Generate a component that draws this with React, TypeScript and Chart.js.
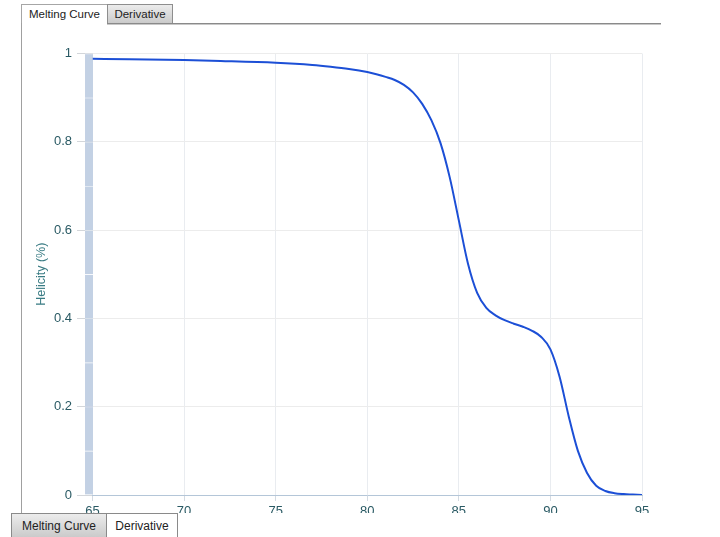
import React, { useEffect, useRef } from "react";
import { Chart, registerables } from "chart.js";

Chart.register(...registerables);

// Melting curve: temperature (°C) vs helicity fraction
const temperatures = [
  65, 67, 70, 72, 75, 77, 78, 79, 80, 80.5, 81, 81.5, 82, 82.5, 83, 83.5, 84,
  84.5, 85, 85.5, 86, 86.5, 87, 87.5, 88, 88.5, 89, 89.5, 90, 90.5, 91, 91.5,
  92, 92.5, 93, 93.5, 94, 94.5, 95,
];
const helicity = [
  0.988, 0.987, 0.985, 0.983, 0.979, 0.974, 0.97, 0.965, 0.958, 0.953, 0.947,
  0.94, 0.929, 0.912, 0.886, 0.849, 0.797, 0.72, 0.622, 0.524, 0.458, 0.424,
  0.407, 0.396, 0.388, 0.381, 0.372, 0.358, 0.33, 0.268, 0.178, 0.1, 0.05,
  0.021, 0.009, 0.004, 0.002, 0.001, 0.0,
];
const xTicks = [65, 70, 75, 80, 85, 90, 95];
const yTicks = [0, 0.2, 0.4, 0.6, 0.8, 1];
// Range selector bar beside the y axis, split into segments
const rangeBarX = 64.81;
const rangeBarEdges = [0, 0.1, 0.2, 0.3, 0.4, 0.5, 0.6, 0.7, 0.8, 0.9, 1.0];

const FONT = '"Liberation Sans", Arial, Helvetica, sans-serif';

function MeltingChart() {
  const ref = useRef<HTMLCanvasElement | null>(null);
  useEffect(() => {
    if (!ref.current) return;
    const segments = rangeBarEdges.slice(0, -1).map((lo, i) => ({
      x: rangeBarX,
      y: [lo, rangeBarEdges[i + 1]],
    }));
    const chart = new Chart(ref.current, {
      type: "line",
      data: {
        datasets: [
          {
            type: "line",
            data: temperatures.map((t, i) => ({ x: t, y: helicity[i] })),
            borderColor: "#1c4fd6",
            borderWidth: 2,
            pointRadius: 0,
            cubicInterpolationMode: "monotone",
            fill: false,
            order: 0,
          } as any,
          {
            type: "bar",
            data: segments as any,
            backgroundColor: "#c3d1e4",
            borderColor: (ctx: any) =>
              ctx.dataIndex % 2 === 0 ? "#ffffff" : "#e4e8ee",
            borderWidth: { top: 1, left: 0, right: 0, bottom: 0 },
            borderSkipped: false,
            barThickness: 8,
            clip: false,
            order: 1,
          } as any,
        ],
      },
      options: {
        animation: false,
        responsive: false,
        events: [],
        layout: { padding: { top: 28.5, right: 20, left: 0, bottom: 0 } },
        plugins: { legend: { display: false }, tooltip: { enabled: false } },
        scales: {
          x: {
            type: "linear",
            min: 65,
            max: 95,
            offset: false,
            afterBuildTicks: (s: any) => {
              s.ticks = xTicks.map((v) => ({ value: v }));
            },
            afterFit: (s: any) => {
              s.height = 30;
            },
            grid: {
              offset: false,
              color: "#e9ecf0",
              tickColor: "#d3dae2",
              tickLength: 6,
              drawTicks: true,
            },
            border: { display: true, color: "#b4c6d8", width: 1 },
            ticks: {
              color: "#2a5a64",
              font: { family: FONT, size: 13 },
              padding: 3,
              maxRotation: 0,
              callback: (v: any) => String(Number(v)),
            },
          },
          y: {
            type: "linear",
            min: 0,
            max: 1,
            afterBuildTicks: (s: any) => {
              s.ticks = yTicks.map((v) => ({ value: v }));
            },
            afterFit: (s: any) => {
              s.width = 70.5;
            },
            grid: {
              offset: false,
              color: "#ececec",
              tickColor: "#d3d6da",
              tickLength: 15.5,
              drawTicks: true,
            },
            border: { display: false },
            ticks: {
              color: "#2a5a64",
              font: { family: FONT, size: 13 },
              padding: 5,
              callback: (v: any) => String(Number(v)),
            },
            title: {
              display: true,
              text: "Helicity (%)",
              color: "#3a7c84",
              font: { family: FONT, size: 12.5 },
              padding: { top: 12, bottom: 0 },
            },
          },
        },
      },
    });
    return () => chart.destroy();
  }, []);
  return (
    <canvas
      ref={ref}
      width={640}
      height={500}
      style={{ display: "block", width: 640, height: 500 }}
    />
  );
}

export default function App() {
  const tabBase: React.CSSProperties = {
    position: "absolute",
    boxSizing: "border-box",
    color: "#222",
    whiteSpace: "nowrap",
    textAlign: "center",
  };
  const grayBg = "linear-gradient(#ececec, #c9c9c9)";
  return (
    <div
      style={{
        position: "absolute",
        left: 0,
        top: 0,
        width: 720,
        height: 537,
        overflow: "hidden",
        background: "#fff",
        fontFamily: FONT,
      }}
    >
      {/* top tabs */}
      <div
        style={{
          ...tabBase,
          left: 21,
          top: 4,
          width: 87,
          height: 20,
          background: "#fff",
          border: "1px solid #a6a6a6",
          borderBottom: "none",
          fontSize: 11.5,
          lineHeight: "19px",
        }}
      >
        Melting Curve
      </div>
      <div
        style={{
          ...tabBase,
          left: 107,
          top: 4,
          width: 66,
          height: 20,
          background: grayBg,
          border: "1px solid #8e8e8e",
          borderBottom: "none",
          fontSize: 11.5,
          lineHeight: "19px",
        }}
      >
        Derivative
      </div>
      <div
        style={{
          position: "absolute",
          left: 107,
          top: 23,
          width: 554,
          height: 1,
          background: "#8a8a8a",
        }}
      />
      <div
        style={{
          position: "absolute",
          left: 107,
          top: 24,
          width: 554,
          height: 1,
          background: "#c8c8c8",
        }}
      />
      <div
        style={{
          position: "absolute",
          left: 21,
          top: 23,
          width: 1,
          height: 490,
          background: "#a0a0a0",
        }}
      />
      {/* chart, clipped at bottom */}
      <div
        style={{
          position: "absolute",
          left: 22,
          top: 25,
          width: 640,
          height: 488,
          overflow: "hidden",
        }}
      >
        <MeltingChart />
      </div>
      {/* bottom tabs */}
      <div
        style={{
          ...tabBase,
          left: 11,
          top: 513,
          width: 96,
          height: 26,
          background: grayBg,
          border: "1px solid #8a8a8a",
          fontSize: 12,
          lineHeight: "24px",
        }}
      >
        Melting Curve
      </div>
      <div
        style={{
          ...tabBase,
          left: 106,
          top: 513,
          width: 72,
          height: 26,
          background: "#fff",
          border: "1px solid #8a8a8a",
          fontSize: 12,
          lineHeight: "24px",
        }}
      >
        Derivative
      </div>
    </div>
  );
}
